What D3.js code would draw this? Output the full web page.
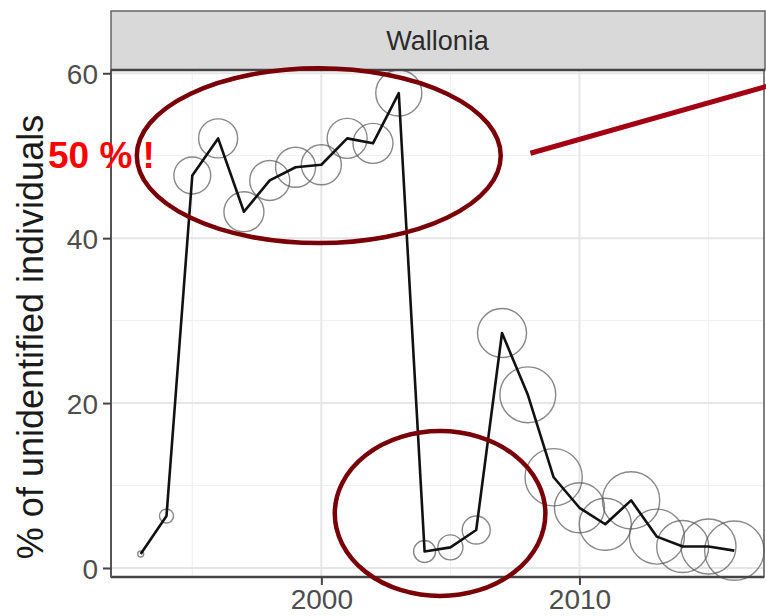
<!DOCTYPE html>
<html>
<head>
<meta charset="utf-8">
<script src="https://cdn.jsdelivr.net/npm/d3@7"></script>
<style>
  body { margin: 0; background: #fff; }
  svg { display: block; font-family: "Liberation Sans", Arial, sans-serif; }
</style>
</head>
<body>
<svg id="chart" width="766" height="616"></svg>
<script>
// data
var years = [1993, 1994, 1995, 1996, 1997, 1998, 1999, 2000, 2001, 2002, 2003, 2004,
             2005, 2006, 2007, 2008, 2009, 2010, 2011, 2012, 2013, 2014, 2015, 2016];
var pctUnidentified = [1.7, 6.3, 47.6, 52.1, 43.2, 47.0, 48.6, 48.9, 52.1, 51.5, 57.6, 2.0,
                       2.5, 4.6, 28.5, 21.0, 11.0, 7.3, 5.3, 8.2, 3.8, 2.6, 2.6, 2.1];
var sampleSize = [9, 49, 340, 380, 400, 400, 400, 400, 400, 400, 530, 121,
                  156, 196, 600, 780, 820, 625, 676, 820, 756, 676, 756, 880];
var xTicks = [2000, 2010];
var xMinor = [1995, 2005, 2015];
var yTicks = [0, 20, 40, 60];
var yMinor = [10, 30, 50];
var facetLabel = "Wallonia";
var yTitle = "% of unidentified individuals";
var callout = "50 % !";

var svg = d3.select("#chart");
// panel box (pixels)
var pLeft = 111, pRight = 764, pTop = 70, pBottom = 577, stripTop = 11;

// ggplot style 5% expansion
var xr = d3.extent(years), xpad = (xr[1] - xr[0]) * 0.05;
var yr = d3.extent(pctUnidentified), ypad = (yr[1] - yr[0]) * 0.05;
var x = d3.scaleLinear().domain([xr[0] - xpad, xr[1] + xpad]).range([pLeft, pRight]);
var y = d3.scaleLinear().domain([yr[0] - ypad, yr[1] + ypad]).range([pBottom, pTop]);
var r = d3.scaleSqrt().domain([0, 900]).range([0, 30]);

var data = years.map(function (d, i) {
  return { year: d, pct: pctUnidentified[i], n: sampleSize[i] };
});

// panel background + grid
svg.append("rect").attr("x", pLeft).attr("y", pTop)
  .attr("width", pRight - pLeft).attr("height", pBottom - pTop).attr("fill", "#fff");

var grid = svg.append("g");
grid.selectAll(".xmin").data(xMinor).enter().append("line")
  .attr("x1", d => x(d)).attr("x2", d => x(d)).attr("y1", pTop).attr("y2", pBottom)
  .attr("stroke", "#f1f1f1").attr("stroke-width", 1.2);
grid.selectAll(".ymin").data(yMinor).enter().append("line")
  .attr("y1", d => y(d)).attr("y2", d => y(d)).attr("x1", pLeft).attr("x2", pRight)
  .attr("stroke", "#f1f1f1").attr("stroke-width", 1.2);
grid.selectAll(".xmaj").data(xTicks).enter().append("line")
  .attr("x1", d => x(d)).attr("x2", d => x(d)).attr("y1", pTop).attr("y2", pBottom)
  .attr("stroke", "#e6e6e6").attr("stroke-width", 2);
grid.selectAll(".ymaj").data(yTicks).enter().append("line")
  .attr("y1", d => y(d)).attr("y2", d => y(d)).attr("x1", pLeft).attr("x2", pRight)
  .attr("stroke", "#e6e6e6").attr("stroke-width", 2);

// circles sized by sample size
svg.append("g").selectAll("circle").data(data).enter().append("circle")
  .attr("cx", d => x(d.year)).attr("cy", d => y(d.pct)).attr("r", d => r(d.n))
  .attr("fill", "none").attr("stroke", "#555").attr("stroke-opacity", 0.7)
  .attr("stroke-width", 1.4);

// line
svg.append("path").datum(data)
  .attr("d", d3.line().x(d => x(d.year)).y(d => y(d.pct)))
  .attr("fill", "none").attr("stroke", "#111").attr("stroke-width", 2.6)
  .attr("stroke-linejoin", "round");

// panel border
svg.append("rect").attr("x", pLeft).attr("y", pTop)
  .attr("width", pRight - pLeft).attr("height", pBottom - pTop)
  .attr("fill", "none").attr("stroke", "#555").attr("stroke-width", 1.5);
svg.append("line").attr("x1", pLeft).attr("x2", pRight).attr("y1", pBottom).attr("y2", pBottom)
  .attr("stroke", "#444").attr("stroke-width", 2.5);
svg.append("line").attr("x1", pLeft).attr("x2", pLeft).attr("y1", pTop).attr("y2", pBottom)
  .attr("stroke", "#555").attr("stroke-width", 2);

// strip
svg.append("rect").attr("x", pLeft).attr("y", stripTop)
  .attr("width", pRight + 1 - pLeft).attr("height", pTop - stripTop)
  .attr("fill", "#d9d9d9").attr("stroke", "#666").attr("stroke-width", 1.5);
svg.append("line").attr("x1", pLeft).attr("x2", pRight + 1).attr("y1", pTop).attr("y2", pTop)
  .attr("stroke", "#444").attr("stroke-width", 2.5);
svg.append("text").attr("x", (pLeft + pRight) / 2).attr("y", (stripTop + pTop) / 2 + 9)
  .attr("text-anchor", "middle").attr("font-size", 27).attr("fill", "#2b2b2b")
  .text(facetLabel);

// axes
var xAxis = svg.append("g").attr("transform", "translate(0," + pBottom + ")")
  .call(d3.axisBottom(x).tickValues(xTicks).tickFormat(d3.format("d")).tickSize(8).tickPadding(4));
var yAxis = svg.append("g").attr("transform", "translate(" + pLeft + ",0)")
  .call(d3.axisLeft(y).tickValues(yTicks).tickSize(8).tickPadding(5));
[xAxis, yAxis].forEach(function (a) {
  a.select(".domain").remove();
  a.selectAll(".tick line").attr("stroke", "#444").attr("stroke-width", 2);
  a.selectAll(".tick text").attr("fill", "#4d4d4d").attr("font-size", 28)
    .attr("font-family", "Liberation Sans, Arial, sans-serif");
});
yAxis.selectAll(".tick text").attr("dy", "0.36em");

svg.append("text")
  .attr("transform", "translate(43,337) rotate(-90)")
  .attr("text-anchor", "middle").attr("font-size", 36).attr("fill", "#1a1a1a")
  .text(yTitle);

// annotations (in data units)
svg.append("ellipse")
  .attr("cx", x(1999.9)).attr("cy", y(50))
  .attr("rx", x(1999.9 + 7.05) - x(1999.9)).attr("ry", y(50) - y(60.6))
  .attr("fill", "none").attr("stroke", "#7a0008").attr("stroke-width", 4.5);
svg.append("ellipse")
  .attr("cx", x(2004.6)).attr("cy", y(6.6))
  .attr("rx", x(2004.6 + 4.08) - x(2004.6)).attr("ry", y(6.6) - y(16.6))
  .attr("fill", "none").attr("stroke", "#7a0008").attr("stroke-width", 4.5);
svg.append("line")
  .attr("x1", x(2008.1)).attr("y1", y(50.3)).attr("x2", x(2017.8)).attr("y2", y(58.9))
  .attr("stroke", "#a30014").attr("stroke-width", 5);
svg.append("text").attr("x", 48).attr("y", 168)
  .attr("font-size", 37).attr("font-weight", "bold").attr("fill", "#ff0000")
  .text(callout);
</script>
</body>
</html>
